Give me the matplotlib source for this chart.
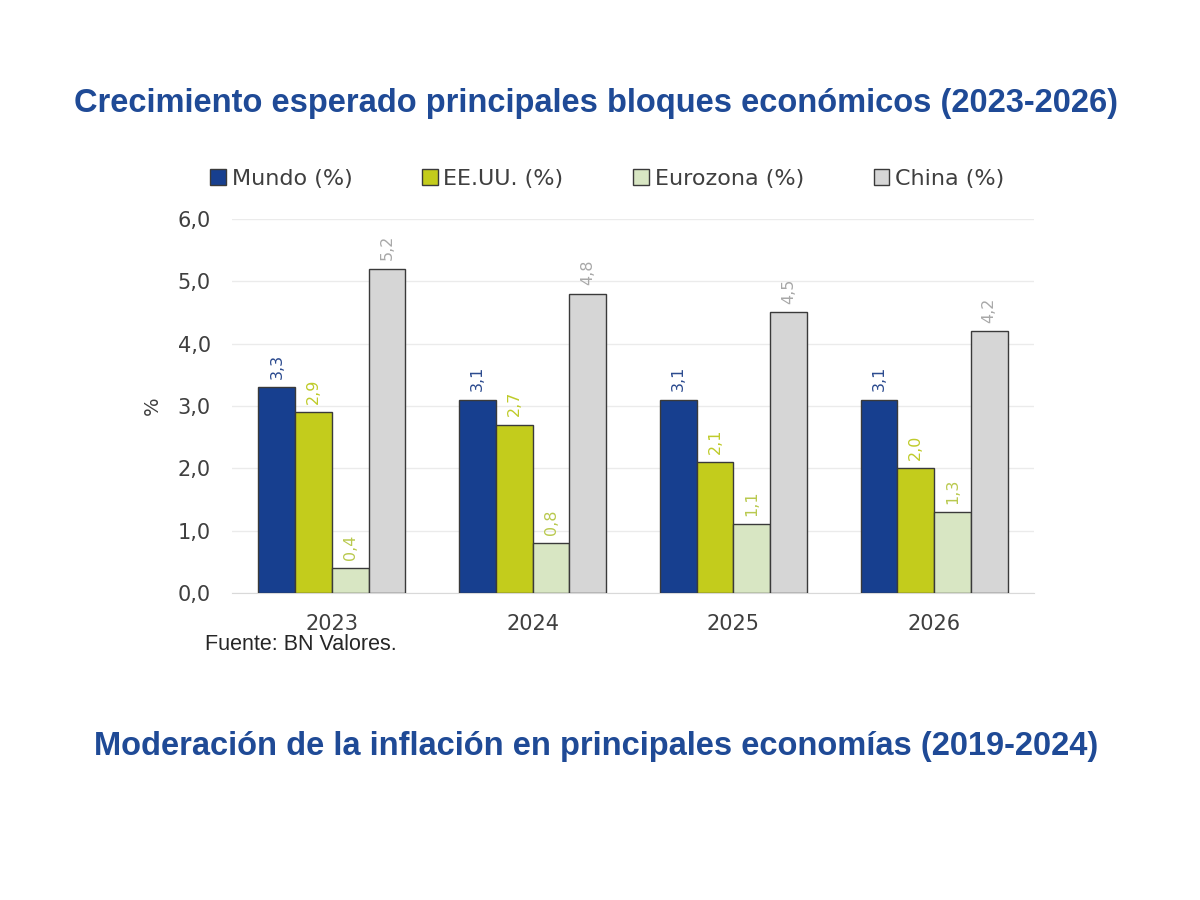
import numpy as np
import matplotlib
matplotlib.use("Agg")
import matplotlib.pyplot as plt
from matplotlib.ticker import FuncFormatter

# ----------------------------
# Data
# ----------------------------
years = ["2023", "2024", "2025", "2026"]
series_names = ["Mundo (%)", "EE.UU. (%)", "Eurozona (%)", "China (%)"]
mundo = [3.3, 3.1, 3.1, 3.1]
eeuu = [2.9, 2.7, 2.1, 2.0]
eurozona = [0.4, 0.8, 1.1, 1.3]
china = [5.2, 4.8, 4.5, 4.2]

title_top = "Crecimiento esperado principales bloques económicos (2023-2026)"
title_bottom = "Moderación de la inflación en principales economías (2019-2024)"
source = "Fuente: BN Valores."

# ----------------------------
# Style
# ----------------------------
bar_colors = ["#173F8F", "#C3CC1C", "#D8E6C3", "#D6D6D6"]
label_colors = ["#2B4A8E", "#BFCB2A", "#B9C94E", "#A8A8A8"]
title_color = "#1F4A96"
text_gray = "#3F3F3F"
tick_font = "DejaVu Sans"

fig = plt.figure(figsize=(12, 9), dpi=100)
fig.patch.set_facecolor("white")
ax = fig.add_axes([0.193, 0.341, 0.669, 0.416])

x = np.arange(len(years))
width = 0.183
all_series = [mundo, eeuu, eurozona, china]
offsets = (np.arange(4) - 1.5) * width

for vals, off, col, lcol, name in zip(all_series, offsets, bar_colors, label_colors, series_names):
    bars = ax.bar(x + off, vals, width, color=col, edgecolor="#3A3A3A",
                  linewidth=1.0, label=name, zorder=3)
    for b, v in zip(bars, vals):
        ax.annotate(f"{v:.1f}".replace(".", ","),
                    (b.get_x() + b.get_width() / 2, v),
                    xytext=(0, 6), textcoords="offset points",
                    rotation=90, ha="center", va="bottom",
                    fontsize=11.5, color=lcol, family=tick_font, zorder=4)

ax.set_xlim(-0.5, 3.5)
ax.set_ylim(0, 6)
ax.set_yticks(np.arange(0, 7, 1))
ax.yaxis.set_major_formatter(FuncFormatter(lambda v, p: f"{v:.1f}".replace(".", ",")))
ax.set_xticks(x)
ax.set_xticklabels(years)
ax.tick_params(axis="both", length=0, labelsize=15, labelcolor=text_gray)
ax.tick_params(axis="y", pad=15)
ax.tick_params(axis="x", pad=15)
for lab in ax.get_xticklabels() + ax.get_yticklabels():
    lab.set_family(tick_font)

ax.grid(axis="y", color="#EBEBEB", linewidth=1.0, zorder=0)
for s in ["top", "right", "left"]:
    ax.spines[s].set_visible(False)
ax.spines["bottom"].set_color("#D9D9D9")
ax.spines["bottom"].set_zorder(2)

ax.set_ylabel("%", fontsize=14, color=text_gray, family=tick_font, labelpad=11)

leg = ax.legend(loc="lower center", bbox_to_anchor=(0.468, 1.027), ncol=4,
                frameon=False, handlelength=0.7, handleheight=0.7,
                handletextpad=0.25, columnspacing=3.15,
                prop={"family": tick_font, "size": 16})
for t in leg.get_texts():
    t.set_color(text_gray)

fig.text(0.497, 0.885, title_top, ha="center", va="center", fontsize=23.5,
         fontweight="bold", color=title_color, family="Liberation Sans")
fig.text(0.497, 0.171, title_bottom, ha="center", va="center", fontsize=23.5,
         fontweight="bold", color=title_color, family="Liberation Sans")
fig.text(0.171, 0.284, source, ha="left", va="center", fontsize=15.5,
         color="#262626", family="Liberation Sans")

fig.savefig("out.png", dpi=100, facecolor="white")
